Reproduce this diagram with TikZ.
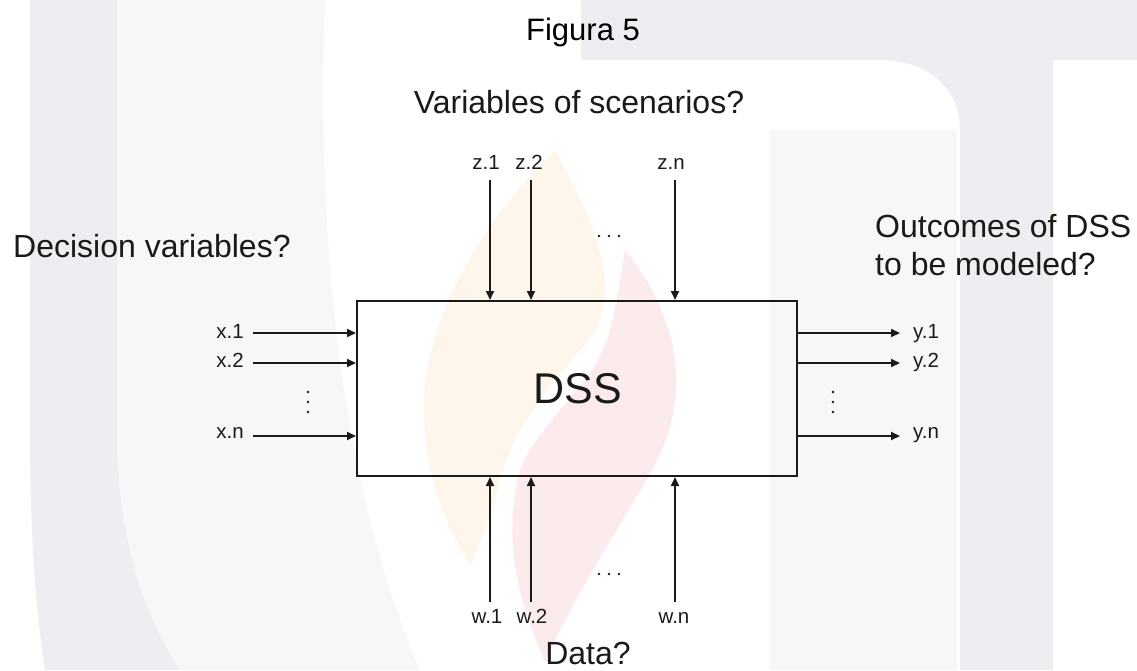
\documentclass[tikz,border=0pt]{standalone}
\usepackage{fontspec}
\setmainfont{Liberation Sans}
\usetikzlibrary{arrows.meta}
\definecolor{ink}{HTML}{1A1A1A}
\definecolor{wmgray}{HTML}{EDEEF1}
\definecolor{wmlight}{HTML}{F7F7F9}
\definecolor{wmorange}{HTML}{FEF6EB}
\definecolor{wmred}{HTML}{FCEBED}
\begin{document}
\begin{tikzpicture}[x=1pt,y=-1pt,
  big/.style={font=\fontsize{32}{38}\selectfont, text=ink, inner sep=0pt},
  small/.style={font=\fontsize{20.5}{24}\selectfont, text=ink, inner sep=0pt},
  arr/.style={draw=ink, line width=1.7pt, -{Triangle[length=9pt,width=8pt]}},
  dotmark/.style={fill=ink, circle, inner sep=0pt, minimum size=2.6pt}]
\useasboundingbox (0,0) rectangle (1137,670);
\fill[white] (0,0) rectangle (1137,670);
% watermark (faint background logo)
\fill[wmlight] (117,0) -- (325,0) .. controls (318,200) and (330,460) .. (420,670) -- (180,670) .. controls (140,610) and (117,530) .. (117,430) -- cycle;
\fill[wmgray] (30,0) -- (117,0) -- (117,430) .. controls (117,530) and (140,610) .. (180,670) -- (45,670) .. controls (34,600) and (30,520) .. (30,430) -- cycle;
\fill[wmlight] (770,130) -- (957,130) -- (957,670) -- (770,670) -- cycle;
\fill[wmgray] (581,0) -- (1137,0) -- (1137,60) -- (1053,60) -- (1053,670) -- (960,670) -- (960,130) .. controls (960,90) and (930,60) .. (880,60) -- (581,60) -- cycle;
\fill[wmorange] (555,150) .. controls (600,230) and (625,300) .. (585,345) .. controls (550,385) and (512,430) .. (500,480) .. controls (490,520) and (480,545) .. (470,565) .. controls (432,505) and (420,440) .. (425,385) .. controls (438,285) and (500,205) .. (555,150) -- cycle;
\fill[wmred] (625,250) .. controls (682,320) and (692,400) .. (652,470) .. controls (612,540) and (572,600) .. (545,662) .. controls (518,600) and (502,540) .. (520,470) .. controls (540,420) and (598,382) .. (610,330) .. controls (617,300) and (622,272) .. (625,250) -- cycle;

% titles
\node[font=\fontsize{31}{36}\selectfont, text=black, inner sep=0pt, anchor=base] (fig) at (583,40) {Figura 5};
\node[big, anchor=base] (scen) at (579,113) {Variables of scenarios?};
\node[big, anchor=base west] (dec) at (13,257) {Decision variables?};
\node[big, anchor=base west] (out1) at (875,237) {Outcomes of DSS};
\node[big, anchor=base west] (out2) at (875,275) {to be modeled?};
\node[big, anchor=base] (data) at (588,664) {Data?};

% main box
\node[draw=ink, line width=2pt, minimum width=440pt, minimum height=175pt, inner sep=0pt] (dss) at (577,388.5) {};
\node[font=\fontsize{43}{50}\selectfont, text=ink, inner sep=0pt] (dsslabel) at (578,389) {DSS};

% z inputs (top)
\node[small, anchor=base] (z1) at (486,169) {z.1};
\node[small, anchor=base] (z2) at (529,169) {z.2};
\node[small, anchor=base] (zn) at (671,169) {z.n};
\coordinate (z1s) at (490,180);
\coordinate (z2s) at (531,180);
\coordinate (zns) at (675,180);
\draw[arr] (z1s) -- (z1s |- dss.north);
\draw[arr] (z2s) -- (z2s |- dss.north);
\draw[arr] (zns) -- (zns |- dss.north);

% w inputs (bottom)
\node[small, anchor=base] (w1) at (487,623) {w.1};
\node[small, anchor=base] (w2) at (532,623) {w.2};
\node[small, anchor=base] (wn) at (674,623) {w.n};
\coordinate (w1s) at (490,602);
\coordinate (w2s) at (531,602);
\coordinate (wns) at (675,602);
\draw[arr] (w1s) -- (w1s |- dss.south);
\draw[arr] (w2s) -- (w2s |- dss.south);
\draw[arr] (wns) -- (wns |- dss.south);

% x inputs (left)
\node[small, anchor=base east] (x1) at (244,338) {x.1};
\node[small, anchor=base east] (x2) at (244,367) {x.2};
\node[small, anchor=base east] (xn) at (244,438) {x.n};
\coordinate (x1s) at (253,333);
\coordinate (x2s) at (253,363);
\coordinate (xns) at (253,436);
\draw[arr] (x1s) -- (x1s -| dss.west);
\draw[arr] (x2s) -- (x2s -| dss.west);
\draw[arr] (xns) -- (xns -| dss.west);

% y outputs (right)
\coordinate (y1e) at (900,333);
\coordinate (y2e) at (900,363);
\coordinate (yne) at (900,436);
\draw[arr] (y1e -| dss.east) -- (y1e);
\draw[arr] (y2e -| dss.east) -- (y2e);
\draw[arr] (yne -| dss.east) -- (yne);
\node[small, anchor=base west] (y1) at (913,338) {y.1};
\node[small, anchor=base west] (y2) at (913,367) {y.2};
\node[small, anchor=base west] (yn) at (913,438) {y.n};

% ellipsis dots
\foreach \i/\xx in {1/599,2/609,3/619} {
  \node[dotmark] (td\i) at (\xx,236) {};
  \node[dotmark] (bd\i) at (\xx,574) {};
}
\foreach \i/\yy in {1/392,2/402,3/412} {
  \node[dotmark] (ld\i) at (308,\yy) {};
  \node[dotmark] (rd\i) at (833,\yy) {};
}
\end{tikzpicture}
\end{document}
